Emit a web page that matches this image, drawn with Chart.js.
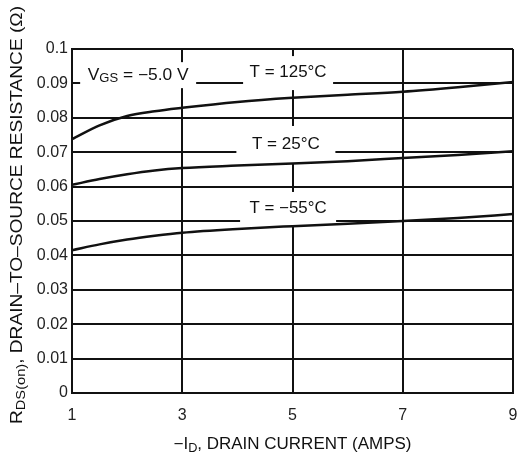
<!DOCTYPE html>
<html lang="en">
<head>
<meta charset="UTF-8">
<title>RDS(on) vs Drain Current</title>
<script src="https://cdn.jsdelivr.net/npm/chart.js"></script>
<style>
  html, body { margin: 0; padding: 0; background: #fff; }
  #wrap { width: 520px; height: 456px; }
</style>
</head>
<body>
<div id="wrap"><canvas id="rdsChart" width="520" height="456"></canvas></div>
<script>
// drain current (amps) at which curves were read
const current = [1, 1.5, 2, 2.5, 3, 4, 5, 6, 7, 8, 9];
// on-resistance (ohms) per junction temperature
const rds125 = [0.0738, 0.0778, 0.0805, 0.0819, 0.0829, 0.0846, 0.0858, 0.0867, 0.0876, 0.0889, 0.0904];
const rds25 = [0.0605, 0.0622, 0.0636, 0.0647, 0.0654, 0.0661, 0.0667, 0.0674, 0.0683, 0.0692, 0.0703];
const rdsM55 = [0.0415, 0.0432, 0.0446, 0.0457, 0.0466, 0.0477, 0.0485, 0.0492, 0.0500, 0.0509, 0.0520];

const xTicks = [1, 3, 5, 7, 9];
const yTicks = ['0', '0.01', '0.02', '0.03', '0.04', '0.05', '0.06', '0.07', '0.08', '0.09', '0.1'];

// curve labels: text parts, anchor (data units), text width and white box size in px
const curveLabels = [
  { parts: [['V', 0], ['GS', 1], [' = \u22125.0 V', 0]], x: 2.2, y: 0.0924, tw: 101, w: 116, h: 26 },
  { parts: [['T = 125\u00B0C', 0]], x: 4.92, y: 0.0930, tw: 77, w: 90, h: 34 },
  { parts: [['T = 25\u00B0C', 0]], x: 4.88, y: 0.0721, tw: 68, w: 99, h: 38 },
  { parts: [['T = \u221255\u00B0C', 0]], x: 4.92, y: 0.0535, tw: 77, w: 96, h: 34 }
];

const FONT = '"Liberation Sans", Arial, sans-serif';
const SIZE = 16;

function pairs(ys) {
  return current.map((x, i) => ({ x: x, y: ys[i] }));
}

// draws text with subscript pieces, centred at (cx, cy), stretched to width tw
function richText(ctx, parts, cx, cy, tw, size) {
  size = size || SIZE;
  let total = 0;
  const widths = parts.map(p => {
    ctx.font = (p[1] ? size - 4 : size) + 'px ' + FONT;
    const w = ctx.measureText(p[0]).width;
    total += w;
    return w;
  });
  const k = tw ? tw / total : 1;
  ctx.save();
  ctx.translate(cx, cy);
  ctx.scale(k, 1);
  let x = -total / 2;
  ctx.textAlign = 'left';
  ctx.textBaseline = 'middle';
  parts.forEach((p, i) => {
    ctx.font = (p[1] ? size - 4 : size) + 'px ' + FONT;
    ctx.fillText(p[0], x, p[1] ? 4 : 0);
    x += widths[i];
  });
  ctx.restore();
}

const labelPlugin = {
  id: 'curveLabels',
  beforeDatasetsDraw(chart) {
    const ctx = chart.ctx;
    const xs = chart.scales.x, ys = chart.scales.y;
    ctx.save();
    curveLabels.forEach(l => {
      const cx = xs.getPixelForValue(l.x);
      const cy = ys.getPixelForValue(l.y);
      ctx.fillStyle = '#fff';
      ctx.fillRect(cx - l.w / 2, cy - l.h / 2, l.w, l.h);
      ctx.fillStyle = '#111';
      richText(ctx, l.parts, cx, cy, l.tw);
    });
    ctx.restore();
  },
  afterDraw(chart) {
    const ctx = chart.ctx;
    const area = chart.chartArea;
    ctx.save();
    ctx.fillStyle = '#111';
    // x axis title
    richText(ctx, [['\u2212I', 0], ['D', 1], [', DRAIN CURRENT (AMPS)', 0]],
      (area.left + area.right) / 2, 445, 238);
    // y axis title, rotated
    ctx.translate(17, 215);
    ctx.rotate(-Math.PI / 2);
    richText(ctx, [['R', 0], ['DS(on)', 1], [', DRAIN\u2013TO\u2013SOURCE RESISTANCE (\u03A9)', 0]], 0, 0, 418, 17);
    ctx.restore();
  }
};

const lineStyle = {
  borderColor: '#111',
  borderWidth: 2.5,
  pointRadius: 0,
  fill: false,
  cubicInterpolationMode: 'monotone'
};

new Chart(document.getElementById('rdsChart'), {
  type: 'line',
  data: {
    datasets: [
      Object.assign({ label: 'T = 125\u00B0C', data: pairs(rds125) }, lineStyle),
      Object.assign({ label: 'T = 25\u00B0C', data: pairs(rds25) }, lineStyle),
      Object.assign({ label: 'T = \u221255\u00B0C', data: pairs(rdsM55) }, lineStyle)
    ]
  },
  options: {
    responsive: false,
    animation: false,
    layout: { padding: { top: 49, right: 7, left: 0, bottom: 0 } },
    plugins: { legend: { display: false }, tooltip: { enabled: false } },
    scales: {
      x: {
        type: 'linear',
        min: 1,
        max: 9,
        afterBuildTicks: s => { s.ticks = xTicks.map(v => ({ value: v })); },
        afterFit: s => { s.height = 63; s.paddingLeft = 0; s.paddingRight = 0; },
        grid: { color: '#111', lineWidth: 2, drawTicks: false },
        border: { color: '#111', width: 2 },
        ticks: { color: '#222', padding: 13, font: { family: FONT, size: SIZE }, maxRotation: 0 }
      },
      y: {
        min: 0,
        max: 0.1,
        afterBuildTicks: s => { s.ticks = yTicks.map(t => ({ value: parseFloat(t) })); },
        afterFit: s => { s.width = 72; s.paddingTop = 0; s.paddingBottom = 0; },
        grid: { color: '#111', lineWidth: 2, drawTicks: false },
        border: { color: '#111', width: 2 },
        ticks: {
          color: '#222',
          padding: 4,
          font: { family: FONT, size: SIZE },
          callback: (v, i) => yTicks[i]
        }
      }
    }
  },
  plugins: [labelPlugin]
});
</script>
</body>
</html>
